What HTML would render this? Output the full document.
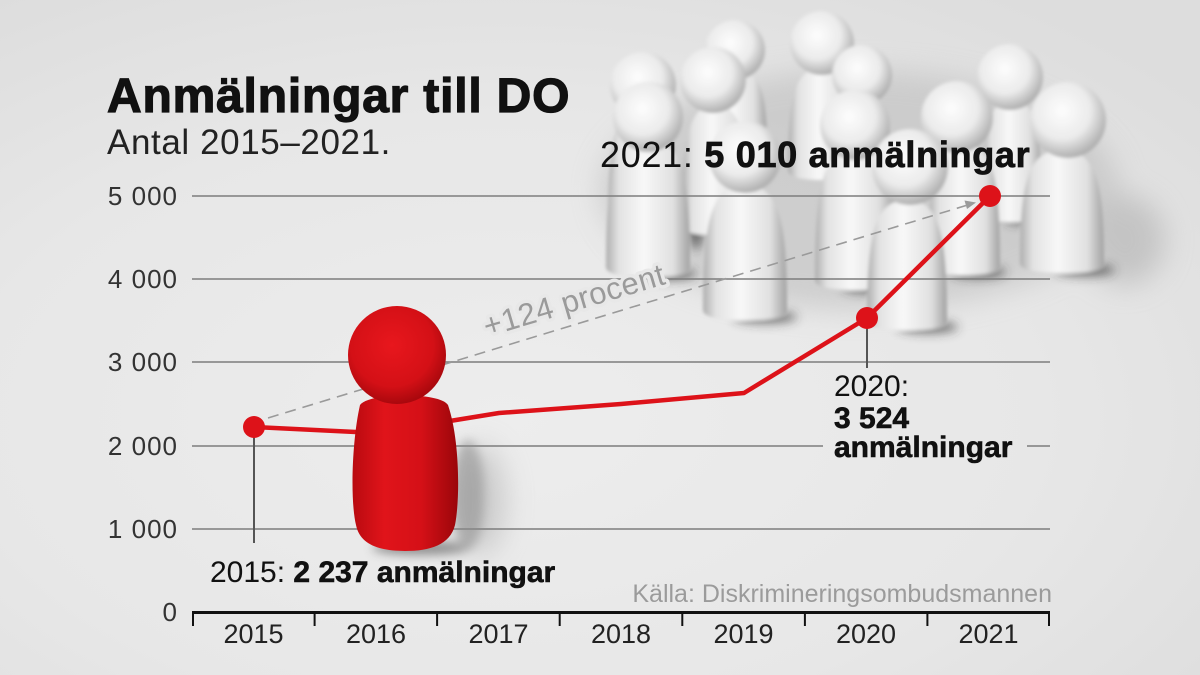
<!DOCTYPE html>
<html>
<head>
<meta charset="utf-8">
<style>
html,body{margin:0;padding:0;background:#e6e6e6;}
svg{display:block;}
text{font-family:"Liberation Sans",Arial,sans-serif;}
</style>
</head>
<body>
<svg width="1200" height="675" viewBox="0 0 1200 675" xmlns="http://www.w3.org/2000/svg">
<defs>
  <radialGradient id="bg" cx="0.42" cy="0.62" r="0.75">
    <stop offset="0" stop-color="#ededed"/>
    <stop offset="0.6" stop-color="#e7e7e7"/>
    <stop offset="1" stop-color="#dddddd"/>
  </radialGradient>
  <linearGradient id="wb" x1="0" x2="1" y1="0" y2="0">
    <stop offset="0" stop-color="#aeaeae"/>
    <stop offset="0.15" stop-color="#e2e2e2"/>
    <stop offset="0.45" stop-color="#f8f8f8"/>
    <stop offset="0.8" stop-color="#e0e0e0"/>
    <stop offset="1" stop-color="#a2a2a2"/>
  </linearGradient>
  <radialGradient id="wh" cx="0.42" cy="0.38" r="0.62">
    <stop offset="0" stop-color="#fdfdfd"/>
    <stop offset="0.6" stop-color="#ebebeb"/>
    <stop offset="1" stop-color="#b0b0b0"/>
  </radialGradient>
  <linearGradient id="rb" x1="0" x2="1" y1="0" y2="0">
    <stop offset="0" stop-color="#b90a10"/>
    <stop offset="0.3" stop-color="#e0141a"/>
    <stop offset="0.65" stop-color="#d51017"/>
    <stop offset="1" stop-color="#9a060a"/>
  </linearGradient>
  <radialGradient id="rh" cx="0.45" cy="0.4" r="0.6">
    <stop offset="0" stop-color="#e8171d"/>
    <stop offset="0.7" stop-color="#d41016"/>
    <stop offset="1" stop-color="#a9080d"/>
  </radialGradient>
  <filter id="b2" x="-20%" y="-20%" width="140%" height="140%"><feGaussianBlur stdDeviation="1.6"/></filter>
  <filter id="b6" x="-50%" y="-50%" width="200%" height="200%"><feGaussianBlur stdDeviation="5"/></filter>
  <filter id="b14" x="-50%" y="-50%" width="200%" height="200%"><feGaussianBlur stdDeviation="14"/></filter>
</defs>

<!-- background -->
<rect width="1200" height="675" fill="url(#bg)"/>

<!-- cluster ambient shadow -->
<g filter="url(#b14)" opacity="0.6">
  <ellipse cx="860" cy="190" rx="260" ry="120" fill="#bdbdbd"/>
  <ellipse cx="1125" cy="240" rx="40" ry="45" fill="#b0b0b0"/>
  <ellipse cx="480" cy="500" rx="25" ry="55" fill="#b5b5b5"/>
</g>

<!-- white figures -->
<g filter="url(#b2)">
  <!-- shadows at bases -->
  <g filter="url(#b6)" fill="#3a3a3a" opacity="0.7">
    <ellipse cx="665" cy="274" rx="32" ry="6"/>
    <ellipse cx="872" cy="287" rx="30" ry="6"/>
    <ellipse cx="978" cy="272" rx="28" ry="6"/>
    <ellipse cx="1085" cy="270" rx="30" ry="6"/>
    <ellipse cx="765" cy="317" rx="32" ry="6"/>
    <ellipse cx="928" cy="327" rx="30" ry="6"/>
    <ellipse cx="1025" cy="219" rx="22" ry="5"/>
    <ellipse cx="696" cy="200" rx="10" ry="50"/>
  </g>
  <!-- back -->
  <path d="M703,150 C703,92.5 709.4,70 735,70 C760.6,70 767,92.5 767,150 Q767,160 735,160 Q703,160 703,150Z" fill="url(#wb)"/>
  <circle cx="735" cy="50" r="30" fill="url(#wh)"/>
  <path d="M788,170 C788,96 794.8,68 822,68 C849.2,68 856,96 856,170 Q856,180 822,180 Q788,180 788,170Z" fill="url(#wb)"/>
  <circle cx="822" cy="43" r="32" fill="url(#wh)"/>
  <path d="M829,220 C829,128.75 835.6,95 862,95 C888.4,95 895,128.75 895,220 Q895,230 862,230 Q829,230 829,220Z" fill="url(#wb)"/>
  <circle cx="862" cy="75" r="30" fill="url(#wh)"/>
  <path d="M982,212 C982,130.5 988,100 1012,100 C1036,100 1042,130.5 1042,212 Q1042,222 1012,222 Q982,222 982,212Z" fill="url(#wb)"/>
  <circle cx="1010" cy="77" r="33" fill="url(#wh)"/>
  <path d="M608,230 C608,138.75 615,105 643,105 C671,105 678,138.75 678,230 Q678,240 643,240 Q608,240 608,230Z" fill="url(#wb)"/>
  <circle cx="643" cy="85" r="33" fill="url(#wh)"/>
  <path d="M682,225 C682,137.5 688.6,105 715,105 C741.4,105 748,137.5 748,225 Q748,235 715,235 Q682,235 682,225Z" fill="url(#wb)"/>
  <circle cx="713" cy="80" r="33" fill="url(#wh)"/>
  <!-- mid -->
  <path d="M606,267 C606,174.25 614.4,140 648,140 C681.6,140 690,174.25 690,267 Q690,277 648,277 Q606,277 606,267Z" fill="url(#wb)"/>
  <circle cx="648" cy="117" r="35" fill="url(#wh)"/>
  <path d="M815,280 C815,185 823,150 855,150 C887,150 895,185 895,280 Q895,290 855,290 Q815,290 815,280Z" fill="url(#wb)"/>
  <circle cx="855" cy="125" r="35" fill="url(#wh)"/>
  <path d="M928,265 C928,177.5 935.2,145 964,145 C992.8,145 1000,177.5 1000,265 Q1000,275 964,275 Q928,275 928,265Z" fill="url(#wb)"/>
  <circle cx="957" cy="117" r="36" fill="url(#wh)"/>
  <path d="M1020,263 C1020,180.75 1028.4,150 1062,150 C1095.6,150 1104,180.75 1104,263 Q1104,273 1062,273 Q1020,273 1020,263Z" fill="url(#wb)"/>
  <circle cx="1068" cy="120" r="38" fill="url(#wh)"/>
  <!-- front -->
  <path d="M703,310 C703,218.75 711.4,185 745,185 C778.6,185 787,218.75 787,310 Q787,320 745,320 Q703,320 703,310Z" fill="url(#wb)"/>
  <circle cx="745" cy="157" r="36" fill="url(#wh)"/>
  <path d="M867,320 C867,232.5 875,200 907,200 C939,200 947,232.5 947,320 Q947,330 907,330 Q867,330 867,320Z" fill="url(#wb)"/>
  <circle cx="910" cy="167" r="38" fill="url(#wh)"/>
</g>

<!-- gridlines -->
<g stroke="#7d7d7d" stroke-width="1.5">
  <line x1="192" y1="196" x2="1050" y2="196"/>
  <line x1="192" y1="279" x2="1050" y2="279"/>
  <line x1="192" y1="362" x2="1050" y2="362"/>
  <line x1="192" y1="446" x2="823" y2="446"/>
  <line x1="1027" y1="446" x2="1050" y2="446"/>
  <line x1="192" y1="529" x2="1050" y2="529"/>
</g>

<!-- +124 procent text (with knockout) -->
<text x="487" y="337" font-size="31" fill="#9a9a9a" letter-spacing="0.5" transform="rotate(-16.5 487 337)" stroke="#e8e8e8" stroke-width="7" paint-order="stroke" stroke-linejoin="round">+124 procent</text>

<!-- dashed arrow -->
<line x1="268" y1="418" x2="966" y2="205.5" stroke="#9a9a9a" stroke-width="1.6" stroke-dasharray="11 7"/>
<polygon points="976,202.5 964.5,200.5 967,209" fill="#9a9a9a"/>

<!-- leaders -->
<line x1="254" y1="427" x2="254" y2="543" stroke="#555" stroke-width="2"/>
<line x1="867" y1="318" x2="867" y2="368" stroke="#555" stroke-width="2"/>

<!-- red line -->
<polyline points="254,427 376,433 499,413 621,404 744,393 867,318 990,196" fill="none" stroke="#dd1219" stroke-width="4.5" stroke-linejoin="round"/>
<circle cx="254" cy="427" r="11" fill="#dd1219"/>
<circle cx="867" cy="318" r="11" fill="#dd1219"/>
<circle cx="990" cy="196" r="11" fill="#dd1219"/>

<!-- red figure -->
<g filter="url(#b6)" opacity="0.55">
  <ellipse cx="468" cy="495" rx="16" ry="55" fill="#8a8a8a"/>
  <ellipse cx="420" cy="548" rx="48" ry="7" fill="#444"/>
</g>
<path d="M360,405 C352,440 350,500 356,525 C360,545 380,551 405,551 C430,551 450,545 455,525 C460,500 460,440 448,405 C440,392 370,392 360,405Z" fill="url(#rb)"/>
<circle cx="397" cy="355" r="49" fill="url(#rh)"/>

<!-- axis -->
<line x1="192" y1="612.5" x2="1050" y2="612.5" stroke="#111" stroke-width="3"/>
<g stroke="#111" stroke-width="2">
  <line x1="193" y1="612" x2="193" y2="626"/>
  <line x1="314.6" y1="612" x2="314.6" y2="626"/>
  <line x1="437.1" y1="612" x2="437.1" y2="626"/>
  <line x1="559.7" y1="612" x2="559.7" y2="626"/>
  <line x1="682.3" y1="612" x2="682.3" y2="626"/>
  <line x1="804.9" y1="612" x2="804.9" y2="626"/>
  <line x1="927.4" y1="612" x2="927.4" y2="626"/>
  <line x1="1049" y1="612" x2="1049" y2="626"/>
</g>

<!-- titles -->
<text x="107" y="112" font-size="48" font-weight="bold" fill="#111" stroke="#111" stroke-width="1.2" letter-spacing="0.8">Anmälningar till DO</text>
<text x="107" y="154" font-size="35" fill="#222" letter-spacing="0.6">Antal 2015–2021.</text>

<!-- y labels -->
<g font-size="26" fill="#333" text-anchor="end" letter-spacing="1">
  <text x="178" y="205">5 000</text>
  <text x="178" y="288">4 000</text>
  <text x="178" y="371">3 000</text>
  <text x="178" y="455">2 000</text>
  <text x="178" y="538">1 000</text>
  <text x="178" y="621">0</text>
</g>

<!-- x labels -->
<g font-size="27" fill="#222" text-anchor="middle">
  <text x="253.5" y="643">2015</text>
  <text x="376" y="643">2016</text>
  <text x="498.5" y="643">2017</text>
  <text x="621" y="643">2018</text>
  <text x="743.5" y="643">2019</text>
  <text x="866" y="643">2020</text>
  <text x="988.5" y="643">2021</text>
</g>

<!-- annotations -->
<text x="600" y="167" font-size="36" fill="#111" letter-spacing="0.7">2021: <tspan font-weight="bold" stroke="#111" stroke-width="0.8">5 010 anmälningar</tspan></text>
<text x="210" y="582" font-size="30" fill="#111">2015: <tspan font-weight="bold" stroke="#111" stroke-width="0.6">2 237 anmälningar</tspan></text>
<text x="834" y="396" font-size="30" fill="#111">2020:</text>
<text x="834" y="428" font-size="30" fill="#111" font-weight="bold" stroke="#111" stroke-width="0.6">3 524</text>
<text x="834" y="457" font-size="30" fill="#111" font-weight="bold" stroke="#111" stroke-width="0.6">anmälningar</text>

<text x="1052" y="602" font-size="25" fill="#9b9b9b" text-anchor="end">Källa: Diskrimineringsombudsmannen</text>
</svg>
</body>
</html>
